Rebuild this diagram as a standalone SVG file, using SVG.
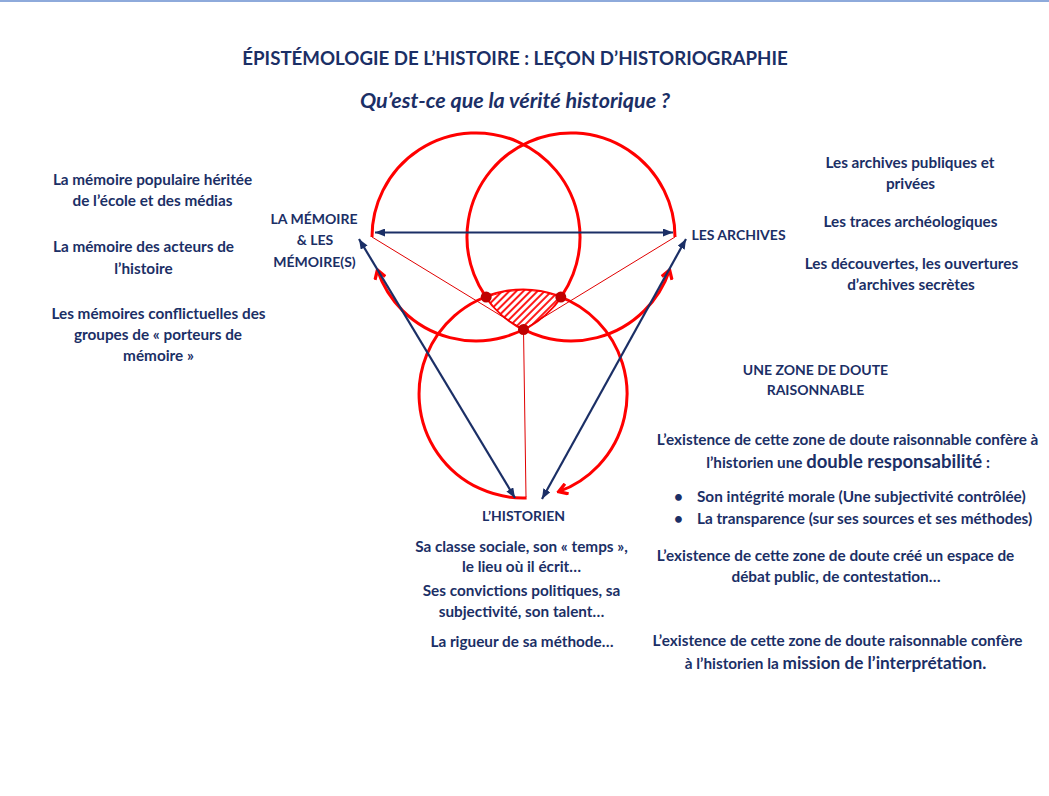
<svg xmlns="http://www.w3.org/2000/svg" width="1049" height="796" viewBox="0 0 1049 796">
<style>
  text { font-family: Lato, "Open Sans", "Liberation Sans", sans-serif; font-weight: bold; fill: #1B2F66; }
  .t { font-size: 15.3px; text-anchor: middle; }
  .c { font-size: 14px; text-anchor: middle; }
  .l { font-size: 15.3px; text-anchor: start; }
  .big { font-size: 18.5px; }
  .big2 { font-size: 17.2px; }
  .blue { stroke: #1B2F66; stroke-width: 2.2; fill: none; marker-start: url(#tri); marker-end: url(#tri); }
  .circ { stroke: #FF0000; stroke-width: 3; fill: none; marker-end: url(#chev); }
  .thin { stroke: #E00000; stroke-width: 1; fill: none; }
  .dot { fill: #C00000; }
</style>
<defs>
  <marker id="tri" viewBox="0 0 10 8" refX="10" refY="4" markerWidth="10" markerHeight="8" markerUnits="userSpaceOnUse" orient="auto-start-reverse">
    <path d="M0,0 L10,4 L0,8 z" fill="#1B2F66"/>
  </marker>
  <marker id="chev" viewBox="0 0 12 12" refX="10" refY="6" markerWidth="13" markerHeight="13" markerUnits="userSpaceOnUse" orient="auto">
    <path d="M2,1 L10,6 L2,11" fill="none" stroke="#FF0000" stroke-width="3"/>
  </marker>
  <pattern id="hatch" patternUnits="userSpaceOnUse" width="5" height="5" patternTransform="rotate(45)">
    <rect width="5" height="5" fill="#FFFFFF"/>
    <line x1="1" y1="0" x2="1" y2="5" stroke="#FF0000" stroke-width="1.8"/>
  </pattern>
</defs>
<rect width="1049" height="796" fill="#FFFFFF"/>
<line x1="0" y1="1" x2="1049" y2="1" stroke="#8EAADB" stroke-width="2"/>

<g id="title">
  <text x="515" y="65" style="font-size:18.7px;text-anchor:middle">ÉPISTÉMOLOGIE DE L’HISTOIRE : LEÇON D’HISTORIOGRAPHIE</text>
  <text x="515" y="108" style="font-size:21.5px;text-anchor:middle;font-style:italic">Qu’est-ce que la vérité historique ?</text>
</g>

<g id="connectors">
  <path class="circ" d="M372,237 A104,104 0 1 1 377.4,270"/>
  <path class="circ" d="M675,237 A104,104 0 1 0 669.6,270"/>
  <path class="circ" d="M526.6,497.9 A104,104 0 1 1 558.6,491.7"/>
  <path d="M486.2,297.1 A104,104 0 0 1 560.8,297.1 A104,104 0 0 1 523.5,329.5 A104,104 0 0 1 486.2,297.1 z" fill="url(#hatch)" stroke="#FF0000" stroke-width="1"/>
  <line class="thin" x1="372" y1="237" x2="523.5" y2="329.5"/>
  <line class="thin" x1="675" y1="237" x2="523.5" y2="329.5"/>
  <line class="thin" x1="523.5" y1="329.5" x2="526" y2="497"/>
  <circle class="dot" cx="486.2" cy="297.1" r="5.5"/>
  <circle class="dot" cx="560.8" cy="297.1" r="5.5"/>
  <circle class="dot" cx="523.5" cy="329.5" r="5.5"/>
  <line class="blue" x1="375" y1="232.5" x2="673" y2="232.5"/>
  <line class="blue" x1="359" y1="239" x2="515" y2="498"/>
  <line class="blue" x1="686" y1="239" x2="542" y2="499"/>
</g>

<g id="memoire">
  <text class="c" x="314" y="224">LA MÉMOIRE</text>
  <text class="c" x="315" y="245">&amp; LES</text>
  <text class="c" x="314.5" y="267">MÉMOIRE(S)</text>
</g>
<g id="memoire-details">
  <text class="t" x="152.5" y="185">La mémoire populaire héritée</text>
  <text class="t" x="152.5" y="206">de l’école et des médias</text>
  <text class="t" x="143.5" y="252">La mémoire des acteurs de</text>
  <text class="t" x="143.5" y="274">l’histoire</text>
  <text class="t" x="158.5" y="319">Les mémoires conflictuelles des</text>
  <text class="t" x="158" y="340">groupes de « porteurs de</text>
  <text class="t" x="158.5" y="361">mémoire »</text>
</g>

<g id="archives">
  <text class="c" x="738.5" y="240">LES ARCHIVES</text>
</g>
<g id="archives-details">
  <text class="t" x="910" y="168">Les archives publiques et</text>
  <text class="t" x="910.5" y="189">privées</text>
  <text class="t" x="910.5" y="227">Les traces archéologiques</text>
  <text class="t" x="911.5" y="269">Les découvertes, les ouvertures</text>
  <text class="t" x="911" y="290">d’archives secrètes</text>
</g>

<g id="historien">
  <text class="c" x="523.5" y="521">L’HISTORIEN</text>
</g>
<g id="historien-details">
  <text class="t" x="521.5" y="552">Sa classe sociale, son « temps »,</text>
  <text class="t" x="521.5" y="572">le lieu où il écrit…</text>
  <text class="t" x="521.5" y="596">Ses convictions politiques, sa</text>
  <text class="t" x="521.5" y="617">subjectivité, son talent…</text>
  <text class="t" x="522" y="647">La rigueur de sa méthode…</text>
</g>

<g id="zone-doute">
  <text class="c" x="815.5" y="375">UNE ZONE DE DOUTE</text>
  <text class="c" x="815.5" y="395">RAISONNABLE</text>
  <text class="t" x="847.5" y="445">L’existence de cette zone de doute raisonnable confère à</text>
  <text class="t" x="848" y="468">l’historien une <tspan class="big">double responsabilité</tspan> :</text>
  <text class="l" x="674" y="502">•</text>
  <text class="l" x="697" y="502">Son intégrité morale (Une subjectivité contrôlée)</text>
  <text class="l" x="674" y="524">•</text>
  <text class="l" x="697" y="524">La transparence (sur ses sources et ses méthodes)</text>
  <text class="t" x="835.5" y="561">L’existence de cette zone de doute créé un espace de</text>
  <text class="t" x="836" y="582">débat public, de contestation…</text>
  <text class="t" x="837.5" y="646">L’existence de cette zone de doute raisonnable confère</text>
  <text class="t" x="835.5" y="669">à l’historien la <tspan class="big2">mission de l’interprétation.</tspan></text>
</g>
</svg>
